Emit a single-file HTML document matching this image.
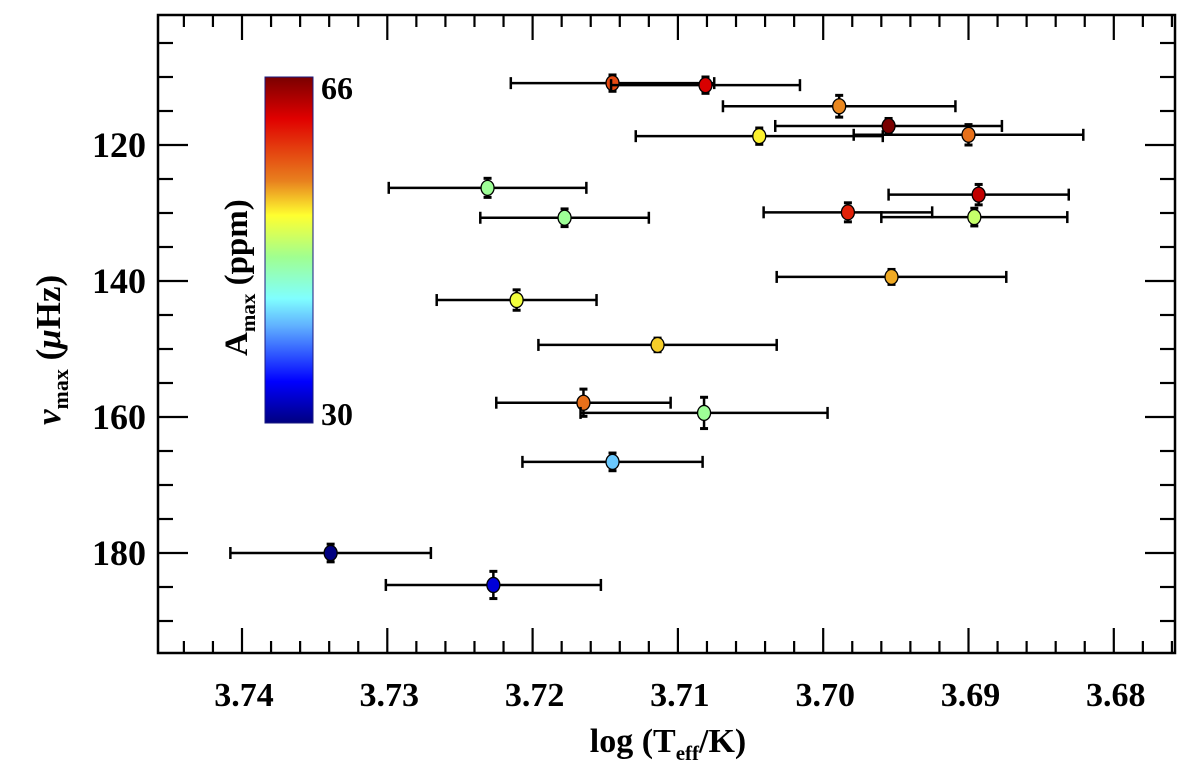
<!DOCTYPE html>
<html><head><meta charset="utf-8"><style>
html,body{margin:0;padding:0;background:#fff;}
svg{display:block;}
text{font-family:"Liberation Serif",serif;font-weight:bold;fill:#000;}
</style></head><body>
<svg id="chart" width="1200" height="772" viewBox="0 0 1200 772" xmlns="http://www.w3.org/2000/svg">
<defs>
<linearGradient id="cbgrad" x1="0" y1="0" x2="0" y2="1">
<stop offset="0" stop-color="#7a0000"/><stop offset="0.12" stop-color="#e00000"/><stop offset="0.3" stop-color="#e8801e"/><stop offset="0.4" stop-color="#ffff30"/><stop offset="0.52" stop-color="#a0ff90"/><stop offset="0.64" stop-color="#80ffff"/><stop offset="0.72" stop-color="#60b0ff"/><stop offset="0.88" stop-color="#0000ff"/><stop offset="1" stop-color="#000080"/>
</linearGradient>
</defs>
<g id="ticks"></g>
<g id="marks"></g>
<rect x="158" y="15" width="1017" height="638" fill="none" stroke="#000" stroke-width="2.5"/>
<rect x="265" y="77" width="48" height="346" fill="url(#cbgrad)" stroke="#1a1a80" stroke-width="1"/>
<text x="321" y="99" font-size="32">66</text>
<text x="321" y="425" font-size="32">30</text>
<text transform="translate(247,356) rotate(-90)" font-size="33">A<tspan font-size="21" dy="8">max</tspan><tspan dy="-8"> (ppm)</tspan></text>
<text transform="translate(60,425) rotate(-90)" font-size="35"><tspan font-style="italic">ν</tspan><tspan font-size="22" dy="8">max</tspan><tspan dy="-8"> (</tspan><tspan font-style="italic">μ</tspan>Hz)</text>
<text x="668" y="752" font-size="34" text-anchor="middle">log (T<tspan font-size="21" dy="8">eff</tspan><tspan dy="-8">/K)</tspan></text>
</svg>
<script>
const teff = [3.7145,3.7081,3.6989,3.6955,3.6900,3.7044,3.7231,3.7178,3.6983,3.6893,3.6896,3.6953,3.7211,3.7114,3.7165,3.7082,3.7145,3.7339,3.7227];
const teffErr = [0.0070,0.0065,0.0080,0.0078,0.0079,0.0085,0.0068,0.0058,0.0058,0.0062,0.0064,0.0079,0.0055,0.0082,0.0060,0.0085,0.0062,0.0069,0.0074];
const numax = [110.9,111.2,114.3,117.2,118.5,118.7,126.3,130.7,129.9,127.3,130.6,139.4,142.8,149.4,157.9,159.4,166.6,180.0,184.7];
const numaxErr = [1.2,1.2,1.6,1.1,1.5,1.2,1.4,1.3,1.4,1.5,1.3,1.1,1.5,1.0,2.0,2.3,1.3,1.3,2.0];
const amax = [58,62,55,66,56,52,47,47,60,63,49,54,51,53,56,47,41,30,33];
const xTicks = [3.74,3.73,3.72,3.71,3.70,3.69,3.68];
const xTickLabels = ["3.74","3.73","3.72","3.71","3.70","3.69","3.68"];
const yTicks = [120,140,160,180];
const yTickLabels = ["120","140","160","180"];

const NS="http://www.w3.org/2000/svg";
const L=158,R=1175,T=15,B=653;
function xs(t){return 242+(3.74-t)*14530;}
function ys(v){return 145+(v-120)*6.8;}
const stops=[[0,[122,0,0]],[0.12,[224,0,0]],[0.3,[232,128,30]],[0.4,[255,255,48]],[0.52,[160,255,144]],[0.64,[128,255,255]],[0.72,[96,176,255]],[0.88,[0,0,255]],[1,[0,0,128]]];
function cmap(a){let f=(66-a)/36;f=Math.max(0,Math.min(1,f));for(let i=1;i<stops.length;i++){if(f<=stops[i][0]){const s=stops[i-1],e=stops[i];const u=(f-s[0])/(e[0]-s[0]);const c=s[1].map((v,k)=>Math.round(v+(e[1][k]-v)*u));return `rgb(${c[0]},${c[1]},${c[2]})`;}}return 'rgb(0,0,128)';}
function mk(tag,attrs,parent){const e=document.createElementNS(NS,tag);for(const k in attrs)e.setAttribute(k,attrs[k]);parent.appendChild(e);return e;}
const tg=document.getElementById('ticks');
for(let i=-3;i<=33;i++){const t=3.74-i*0.002;const x=xs(t);if(x<L||x>R)continue;const major=(i%5===0);const len=major?25:12;
 const a=mk('line',{x1:x,y1:B,x2:x,y2:B-len,stroke:'#000','stroke-width':2.2},tg);
 
 
 const b=mk('line',{x1:x,y1:T,x2:x,y2:T+len,stroke:'#000','stroke-width':2.2},tg);
 
 }
xTicks.forEach((t,i)=>{const e=mk('text',{x:xs(t)+2,y:706,'font-size':34,'text-anchor':'middle'},tg);e.textContent=xTickLabels[i];
 
 });
for(let v=100;v<=195;v+=5){const y=ys(v);if(y<T+2||y>B-2)continue;const major=(v%20===0);const len=major?30:15;
 const a=mk('line',{x1:L,y1:y,x2:L+len,y2:y,stroke:'#000','stroke-width':2.2},tg);
 
 
 const b=mk('line',{x1:R,y1:y,x2:R-len,y2:y,stroke:'#000','stroke-width':2.2},tg);
 
 }
yTicks.forEach((v,i)=>{const e=mk('text',{x:146,y:ys(v)+12,'font-size':36,'text-anchor':'end'},tg);e.textContent=yTickLabels[i];
 
 });
const mg=document.getElementById('marks');
teff.forEach((t,i)=>{const g=mk('g',{},mg);
 
 
 const x=xs(t),y=ys(numax[i]),x1=xs(t+teffErr[i]),x2=xs(t-teffErr[i]),y1=ys(numax[i]-numaxErr[i]),y2=ys(numax[i]+numaxErr[i]);
 mk('line',{x1:x1,y1:y,x2:x2,y2:y,stroke:'#000','stroke-width':2.5},g);
 mk('line',{x1:x1,y1:y-6,x2:x1,y2:y+6,stroke:'#000','stroke-width':2.5},g);
 mk('line',{x1:x2,y1:y-6,x2:x2,y2:y+6,stroke:'#000','stroke-width':2.5},g);
 mk('line',{x1:x,y1:y1,x2:x,y2:y2,stroke:'#000','stroke-width':2.5},g);
 mk('line',{x1:x-4,y1:y1,x2:x+4,y2:y1,stroke:'#000','stroke-width':3},g);
 mk('line',{x1:x-4,y1:y2,x2:x+4,y2:y2,stroke:'#000','stroke-width':3},g);
 mk('ellipse',{cx:x,cy:y,rx:6.5,ry:7.5,fill:cmap(amax[i]),stroke:'#000','stroke-width':1.3},g);
});
</script>
</body></html>
